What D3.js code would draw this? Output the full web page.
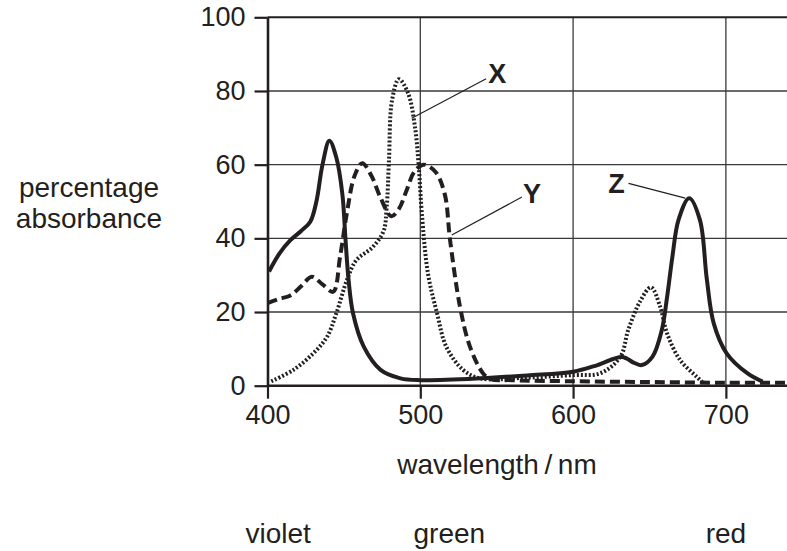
<!DOCTYPE html>
<html>
<head>
<meta charset="utf-8">
<script src="https://cdn.jsdelivr.net/npm/d3@7"></script>
<style>
  body { margin: 0; background: #fff; }
  text { font-family: "Liberation Sans", Arial, sans-serif; fill: #231f20; }
</style>
</head>
<body>
<div id="chart"></div>
<script>
// absorption spectra (wavelength nm, percentage absorbance)
var zNm  = [401, 408, 415, 422, 428, 432, 436, 440.5, 445, 449, 451, 453, 456, 463, 474, 487, 500, 540, 570, 600, 616, 632, 640, 645, 652, 658, 661.5, 665, 669, 676, 683, 687.5, 692, 700.5, 714, 724];
var zPct = [31, 36, 39.5, 42, 44.5, 50, 60, 66.5, 62, 52, 40, 29, 19.6, 10.6, 4.3, 2, 1.5, 2, 2.8, 3.8, 5.6, 7.8, 6.2, 5.6, 7.9, 15, 24, 35, 45, 50.9, 45, 29, 17, 8.8, 3.4, 1.1];

var yNm  = [400, 407, 415, 422, 429, 436, 443, 447.5, 452, 457, 462, 468, 474, 481, 486, 491, 496, 502, 510, 516, 519.5, 526, 532.5, 541, 546, 560, 600, 650, 700, 740];
var yPct = [22.4, 23.5, 24.5, 27, 29.6, 27.5, 25.5, 35, 47, 57, 60.4, 57, 51, 46, 48, 53, 58, 60, 58, 52, 39.5, 21.4, 10.6, 3.4, 1.8, 1.5, 1.2, 1, 0.8, 0.8];

var xNm  = [402.5, 417, 430, 439, 445, 452, 458, 469, 476, 478, 479.5, 481.5, 486, 492, 496.5, 499, 501, 505, 511, 517, 528, 539, 570, 600, 618, 631, 636, 644, 651, 657, 661.5, 670, 681, 684.5];
var xPct = [1.2, 4.3, 8.8, 13.3, 19.6, 28.7, 34, 37.7, 42, 48.5, 61, 77.5, 83.2, 79.4, 70.3, 59.4, 46.8, 30.5, 19.6, 10.6, 4.3, 2, 2.2, 2.9, 3.4, 7.9, 15, 23, 26.7, 21.4, 14.2, 7, 2.4, 1];

var xTicks = [400, 500, 600, 700];
var yTicks = [0, 20, 40, 60, 80, 100];
var bands = ["violet", "green", "red"];
var bandNm = [407, 519, 700];

// curve labels: name, label position, leader start, leader end (data units)
var curveNames = ["X", "Y", "Z"];
var labelAt  = [[544.4, 82.2], [567.3, 49.6], [623, 52.3]];
var leadFrom = [[494.4, 72.6], [520.6, 40.9], [636.3, 54.9]];
var leadTo   = [[543.1, 83.3], [566.5, 51.2], [673.4, 50.9]];

var width = 787, height = 551;
var ink = "#231f20";

var svg = d3.select("#chart").append("svg")
  .attr("width", width)
  .attr("height", height);

var x = d3.scaleLinear().domain([400, 740]).range([267.5, 787]);
var y = d3.scaleLinear().domain([0, 100]).range([385.7, 17.3]);

// grid
svg.append("g").selectAll("line")
  .data(xTicks.slice(1)).enter().append("line")
    .attr("x1", function(d){ return x(d) }).attr("x2", function(d){ return x(d) })
    .attr("y1", y(0)).attr("y2", y(100))
    .attr("stroke", "#3a3a3a").attr("stroke-width", 1.3);

svg.append("g").selectAll("line")
  .data(yTicks.slice(1, -1)).enter().append("line")
    .attr("x1", x(400)).attr("x2", width)
    .attr("y1", function(d){ return y(d) }).attr("y2", function(d){ return y(d) })
    .attr("stroke", "#3a3a3a").attr("stroke-width", 1.3);

svg.append("line")
  .attr("x1", x(400)).attr("x2", width)
  .attr("y1", y(100)).attr("y2", y(100))
  .attr("stroke", ink).attr("stroke-width", 2);

// axes
var yAxis = svg.append("g")
  .attr("transform", "translate(" + x(400) + ",0)")
  .call(d3.axisLeft(y).tickValues(yTicks).tickSize(13).tickPadding(9).tickSizeOuter(0));

var xAxis = svg.append("g")
  .attr("transform", "translate(0," + y(0) + ")")
  .call(d3.axisBottom(x).tickValues(xTicks).tickSize(13).tickPadding(6).tickSizeOuter(0));

[xAxis, yAxis].forEach(function(a){
  a.select(".domain").attr("stroke", ink).attr("stroke-width", 2.6);
  a.selectAll(".tick line").attr("stroke", ink).attr("stroke-width", 2.2);
  a.selectAll(".tick text").attr("fill", ink)
    .style("font-family", "'Liberation Sans', Arial, sans-serif")
    .style("font-size", "27px");
});
// axisBottom domain stops at the range end, stretch to page edge
xAxis.select(".domain").attr("d", "M" + x(400) + ",0H" + width);

// curves
var line = d3.line()
  .x(function(d){ return x(d[0]) })
  .y(function(d){ return y(d[1]) })
  .curve(d3.curveCatmullRom.alpha(0.5));

var plot = svg.append("g");

plot.append("path")
  .datum(d3.zip(yNm, yPct))
  .attr("d", line)
  .attr("fill", "none").attr("stroke", ink)
  .attr("stroke-width", 4).attr("stroke-dasharray", "10,5");

plot.append("path")
  .datum(d3.zip(xNm, xPct))
  .attr("d", line)
  .attr("fill", "none").attr("stroke", ink)
  .attr("stroke-width", 4).attr("stroke-dasharray", "2,2");

plot.append("path")
  .datum(d3.zip(zNm, zPct))
  .attr("d", line)
  .attr("fill", "none").attr("stroke", ink)
  .attr("stroke-width", 4).attr("stroke-linejoin", "round");

// labels with leader lines
svg.append("g").selectAll("line")
  .data(curveNames).enter().append("line")
    .attr("x1", function(d,i){ return x(leadFrom[i][0]) })
    .attr("y1", function(d,i){ return y(leadFrom[i][1]) })
    .attr("x2", function(d,i){ return x(leadTo[i][0]) })
    .attr("y2", function(d,i){ return y(leadTo[i][1]) })
    .attr("stroke", ink).attr("stroke-width", 1.2);

svg.append("g").selectAll("text")
  .data(curveNames).enter().append("text")
    .attr("x", function(d,i){ return x(labelAt[i][0]) })
    .attr("y", function(d,i){ return y(labelAt[i][1]) })
    .attr("font-size", 27).attr("font-weight", "bold")
    .text(function(d){ return d });

// axis titles
var yTitle = svg.append("text")
  .attr("text-anchor", "middle")
  .attr("font-size", 28);
yTitle.append("tspan").attr("x", 89).attr("y", 197).text("percentage");
yTitle.append("tspan").attr("x", 89).attr("y", 228).text("absorbance");

svg.append("text")
  .attr("text-anchor", "middle")
  .attr("x", 497).attr("y", 474)
  .attr("font-size", 28)
  .text("wavelength\u2009/\u2009nm");

svg.append("g").selectAll("text")
  .data(bands).enter().append("text")
    .attr("text-anchor", "middle")
    .attr("x", function(d,i){ return x(bandNm[i]) })
    .attr("y", 543)
    .attr("font-size", 28)
    .text(function(d){ return d });
</script>
</body>
</html>
